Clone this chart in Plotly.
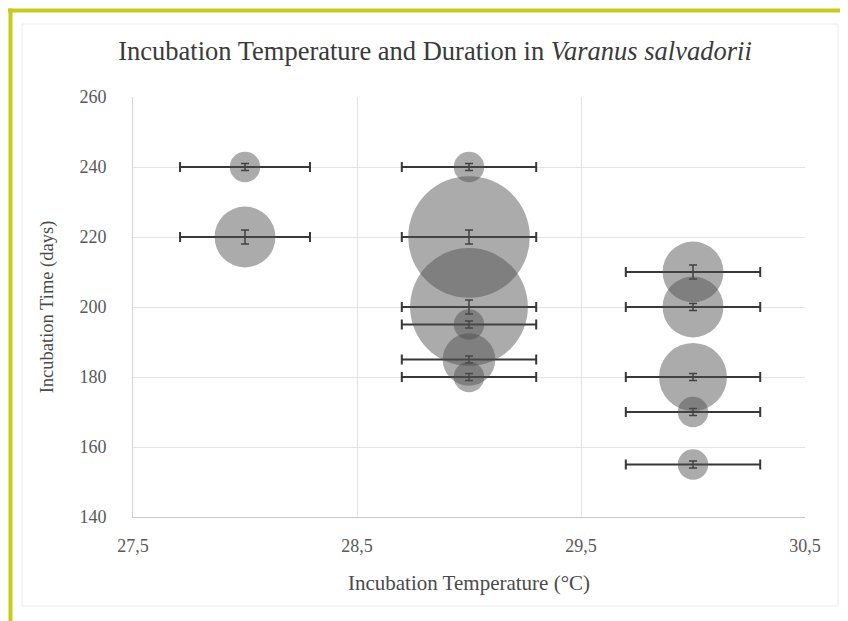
import plotly.graph_objects as go

# ---- data ----
temperature = [28.0, 28.0,
               29.0, 29.0, 29.0, 29.0, 29.0, 29.0,
               30.0, 30.0, 30.0, 30.0, 30.0]
duration = [240, 220,
            240, 220, 200, 195, 185, 180,
            210, 200, 180, 170, 155]
clutch_size = [1, 4,
               1, 16, 15, 1, 3, 1,
               4, 4, 5, 1, 1]
temp_error = [0.29, 0.29,
              0.3, 0.3, 0.3, 0.3, 0.3, 0.3,
              0.3, 0.3, 0.3, 0.3, 0.3]
duration_error = [1, 2,
                  1, 2, 2, 1, 1, 1,
                  2, 1, 1, 1, 1]
x_ticks = [27.5, 28.5, 29.5, 30.5]
y_ticks = [140, 160, 180, 200, 220, 240, 260]

# page has an 8px body margin, so the figure is drawn 8px in from the corner
OFF = 8
W, H = 848 - OFF, 621 - OFF
L, T = 133 - OFF, 97 - OFF
R, B = W - (805 - OFF), H - (517 - OFF)
pw, ph = W - L - R, H - T - B

def px(xpage):
    return (xpage - OFF - L) / pw

def py(ypage):
    return (H - B - (ypage - OFF)) / ph

fig = go.Figure()
fig.add_trace(go.Scatter(
    x=temperature, y=duration, mode="markers",
    marker=dict(size=clutch_size, sizemode="area", sizeref=1 / 21.5 ** 2,
                color="rgba(78,78,78,0.68)", line=dict(width=0)),
    error_x=dict(type="data", array=temp_error, color="#383838", thickness=2, width=5),
    error_y=dict(type="data", array=duration_error, color="#383838", thickness=1.5, width=4),
    showlegend=False,
))

serif = "Liberation Serif"
fig.update_layout(
    width=W, height=H,
    margin=dict(l=L, r=R, t=T, b=B),
    paper_bgcolor="white", plot_bgcolor="white",
    separators=",.",
    font=dict(family=serif, color="#595959"),
    title=dict(text="Incubation Temperature and Duration in <i>Varanus salvadorii</i>",
               x=(435 - OFF) / W, xanchor="center",
               y=1 - (51 - OFF) / H, yanchor="middle",
               font=dict(family=serif, size=26.5, color="#3a3a3a")),
    xaxis=dict(range=[27.5, 30.5], tickvals=x_ticks, tickformat=".1f",
               showgrid=True, gridcolor="#e4e4e4", zeroline=False,
               showline=True, linecolor="#c8c8c8", linewidth=1,
               ticks="", ticklabelstandoff=12,
               tickfont=dict(family=serif, size=18, color="#595959"),
               title=dict(text="Incubation Temperature (°C)", standoff=20,
                          font=dict(family=serif, size=21, color="#4a4a4a"))),
    yaxis=dict(range=[140, 260], tickvals=y_ticks,
               showgrid=True, gridcolor="#e4e4e4", zeroline=False,
               showline=True, linecolor="#d4d4d4", linewidth=1,
               ticks="", ticklabelstandoff=22,
               tickfont=dict(family=serif, size=18, color="#595959"),
               title=dict(text="Incubation Time (days)", standoff=20,
                          font=dict(family=serif, size=18.5, color="#4a4a4a"))),
    shapes=[
        dict(type="line", xref="paper", yref="paper",
             x0=px(8), x1=px(860), y0=py(10.5), y1=py(10.5),
             line=dict(color="#c6cc1e", width=4)),
        dict(type="line", xref="paper", yref="paper",
             x0=px(10.5), x1=px(10.5), y0=py(8.5), y1=py(630),
             line=dict(color="#c6cc1e", width=4)),
        dict(type="rect", xref="paper", yref="paper",
             x0=px(22), x1=px(838), y0=py(24), y1=py(606),
             line=dict(color="#ececec", width=1)),
    ],
)

fig.write_html("out.html")
